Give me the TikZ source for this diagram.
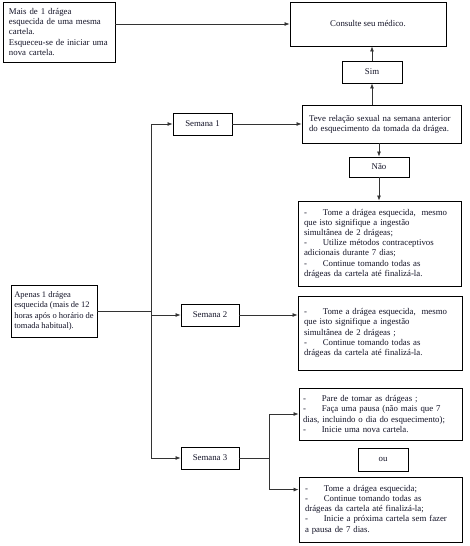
\documentclass[tikz,border=0pt]{standalone}
\usepackage{fontspec}
\setmainfont{Liberation Serif}
\usetikzlibrary{arrows.meta,calc}
\definecolor{ink}{HTML}{141428}
\definecolor{wire}{HTML}{333333}
\begin{document}
\begin{tikzpicture}[x=1pt,y=-1pt,
  box/.style={draw=black,line width=0.9pt,fill=white,inner sep=0pt,
    font=\fontsize{8.8}{10.2}\selectfont,text=ink},
  tbox/.style={box,inner xsep=6pt,align=left},
  conn/.style={draw=wire,line width=0.7pt},
  arr/.style={conn,-{Latex[length=5pt,width=4pt]}}]
\useasboundingbox (0,0) rectangle (469,546);
\newcommand{\dsh}{-\hspace{1.8em}}
% boxes
\node[tbox,minimum width=112pt,minimum height=60pt,text width=100pt] (mais) at (59,32)
  {Mais de 1 drágea\\esquecida de uma mesma\\cartela.\\Esqueceu-se de iniciar uma\\nova cartela.};
\node[box,minimum width=156pt,minimum height=44pt] (consulte) at (368,24) {Consulte seu médico.};
\node[box,minimum width=60pt,minimum height=22pt] (sim) at (372,72) {Sim};
\node[tbox,minimum width=159pt,minimum height=38pt,text width=145pt,inner xsep=7pt] (teve) at (381.5,124)
  {Teve relação sexual na semana anterior\\do esquecimento da tomada da drágea.};
\node[box,minimum width=60pt,minimum height=20pt] (nao) at (379,167) {Não};
\node[tbox,minimum width=163pt,minimum height=85pt,text width=151pt] (b1) at (379.5,243.5)
  {\dsh Tome a drágea esquecida,\ \ mesmo\\que isto signifique a ingestão\\simultânea de 2 drágeas;\\\dsh Utilize métodos contraceptivos\\adicionais durante 7 dias;\\\dsh Continue tomando todas as\\drágeas da cartela até finalizá-la.};
\node[tbox,minimum width=86pt,minimum height=52pt,inner xsep=1pt,
  font=\fontsize{8.5}{10.2}\selectfont] (apenas) at (54,311)
  {Apenas 1 drágea\\esquecida (mais de 12\\horas após o horário de\\tomada habitual).};
\node[box,minimum width=59pt,minimum height=22pt] (s1) at (202.5,124) {Semana 1};
\node[box,minimum width=58pt,minimum height=22pt] (s2) at (210,315) {Semana 2};
\node[tbox,minimum width=164pt,minimum height=74pt,text width=152pt] (b2) at (380,333)
  {\dsh Tome a drágea esquecida,\ \ mesmo\\que isto signifique a ingestão\\simultânea de 2 drágeas ;\\\dsh Continue tomando todas as\\drágeas da cartela até finalizá-la.};
\node[box,minimum width=58pt,minimum height=22pt] (s3) at (210,458) {Semana 3};
\node[tbox,minimum width=163pt,minimum height=52pt,text width=155pt,inner xsep=4pt] (b3) at (380.5,414)
  {\dsh Pare de tomar as drágeas ;\\\dsh Faça uma pausa (não mais que 7\\dias, incluindo o dia do esquecimento);\\\dsh Inicie uma nova cartela.};
\node[box,minimum width=50pt,minimum height=23pt] (ou) at (383,459.5) {ou};
\node[tbox,minimum width=163pt,minimum height=65pt,text width=151pt] (b4) at (380.5,509.5)
  {\dsh Tome a drágea esquecida;\\\dsh Continue tomando todas as\\drágeas da cartela até finalizá-la;\\\dsh Inicie a próxima cartela sem fazer\\a pausa de 7 dias.};
% coordinates
\coordinate (j) at (151,311);
\coordinate (fork) at (269,458);
\coordinate (b4in) at ($(b4.north west)+(0,13)$);
% connectors
\draw[arr] (mais.east |- consulte.west) -- (consulte.west);
\draw[arr] (sim.north) -- (sim.north |- consulte.south);
\draw[arr] (sim.south |- teve.north) -- (sim.south);
\draw[arr] (nao.north |- teve.south) -- (nao.north);
\draw[arr] (nao.south) -- (nao.south |- b1.north);
\draw[arr] (s1.east) -- (s1.east -| teve.west);
\draw[conn] (apenas.east) -- (j);
\draw[arr] (j) |- (s1.west);
\draw[arr] (j) |- (s2.west);
\draw[arr] (j) |- (s3.west);
\draw[arr] (s2.east) -- (s2.east -| b2.west);
\draw[conn] (s3.east) -- (fork);
\draw[arr] (fork) |- (b3.west);
\draw[arr] (fork) |- (b4in);
\end{tikzpicture}
\end{document}
